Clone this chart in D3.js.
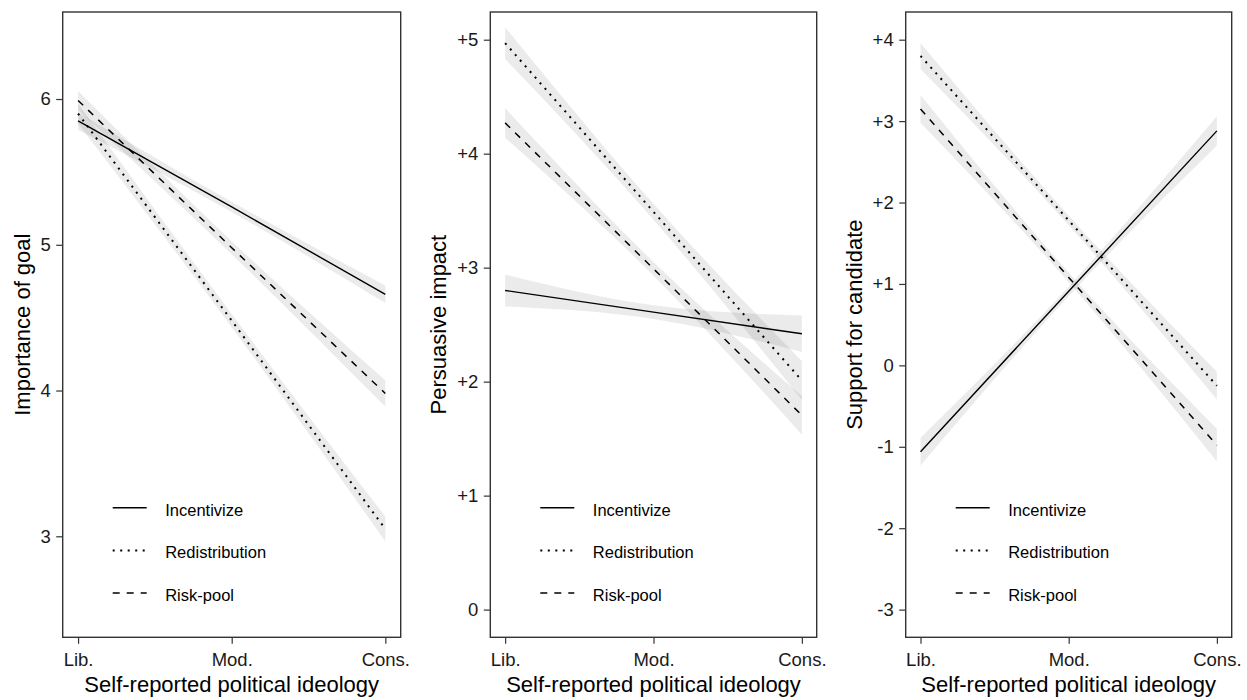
<!DOCTYPE html>
<html lang="en">
<head>
<meta charset="utf-8">
<style>
  html, body { margin: 0; padding: 0; background: #fff; }
  svg { display: block; font-family: "Liberation Sans", Arial, Helvetica, sans-serif; }
  .tick text { fill: #1a1a1a; }
</style>
</head>
<body>
<script src="https://cdnjs.cloudflare.com/ajax/libs/d3/7.8.5/d3.min.js"></script>
<script>
// categories on the x axis and the three message frames
var ideology = ['Lib.', 'Mod.', 'Cons.'];
var frames = ['Incentivize', 'Redistribution', 'Risk-pool'];
var dashes = ['none', '2,5.5', '7,7'];
var widths = [1.4, 2, 1.5];

// panel 1 - importance of goal (fit at Lib / Mod / Cons, half width of the ci band)
var goalFit  = [[5.85, 5.26, 4.66], [5.90, 4.48, 3.05], [5.99, 4.98, 3.98]];
var goalHalf = [[0.06, 0.035, 0.06], [0.07, 0.045, 0.085], [0.065, 0.045, 0.09]];
var goalTicks = [3, 4, 5, 6];
var goalLimits = [2.307, 6.597];

// panel 2 - persuasive impact
var impactFit  = [[2.80, 2.61, 2.42], [4.97, 3.49, 2.01], [4.27, 2.99, 1.705]];
var impactHalf = [[0.14, 0.06, 0.16], [0.14, 0.07, 0.17], [0.13, 0.06, 0.17]];
var impactTicks = [0, 1, 2, 3, 4, 5];
var impactLimits = [-0.243, 5.243];

// panel 3 - support for candidate
var supportFit  = [[-1.06, 0.91, 2.88], [3.80, 1.78, -0.25], [3.15, 1.08, -0.98]];
var supportHalf = [[0.17, 0.06, 0.18], [0.16, 0.06, 0.17], [0.17, 0.06, 0.2]];
var supportTicks = [-3, -2, -1, 0, 1, 2, 3, 4];
var supportLimits = [-3.34, 4.34];

var yTitles = ['Importance of goal', 'Persuasive impact', 'Support for candidate'];
var xTitle = 'Self-reported political ideology';

var W = 1247, H = 700;
// NB: "top" is taken by window.top, so use other names
var plotTop = 12, plotBottom = 637.3;

var svg = d3.select('body').append('svg')
    .attr('width', W)
    .attr('height', H);

// plain labels for panel 1, signed for the others
var plain = d => String(d);
var signed = d => d > 0 ? '+' + d : String(d);

var panels = [
  {left: 62.7, right: 400.7, fit: goalFit, half: goalHalf, ticks: goalTicks, lim: goalLimits, fmt: plain, titleX: 29.5},
  {left: 490.3, right: 816.7, fit: impactFit, half: impactHalf, ticks: impactTicks, lim: impactLimits, fmt: signed, titleX: 445.8},
  {left: 905.7, right: 1231.7, fit: supportFit, half: supportHalf, ticks: supportTicks, lim: supportLimits, fmt: signed, titleX: 861.5}
];

panels.forEach(function(p, pi) {
  var g = svg.append('g');

  var x = d3.scalePoint()
      .domain(ideology)
      .range([p.left, p.right])
      .padding(0.1);
  var y = d3.scaleLinear()
      .domain(p.lim)
      .range([plotBottom, plotTop]);

  // clip to the panel
  var clipId = 'clip' + pi;
  svg.append('clipPath').attr('id', clipId)
    .append('rect')
      .attr('x', p.left).attr('y', plotTop)
      .attr('width', p.right - p.left).attr('height', plotBottom - plotTop);

  var plot = g.append('g').attr('clip-path', 'url(#' + clipId + ')');

  // confidence bands
  var area = d3.area()
      .x(d => x(d.cat))
      .y0(d => y(d.lo))
      .y1(d => y(d.hi))
      .curve(d3.curveNatural);

  frames.forEach(function(f, i) {
    var rows = ideology.map((c, j) => ({cat: c, lo: p.fit[i][j] - p.half[i][j], hi: p.fit[i][j] + p.half[i][j]}));
    plot.append('path')
      .datum(rows)
      .attr('d', area)
      .attr('fill', '#000')
      .attr('fill-opacity', 0.08);
  });

  // fitted lines
  var line = d3.line()
      .x(d => x(d.cat))
      .y(d => y(d.v));

  frames.forEach(function(f, i) {
    var rows = ideology.map((c, j) => ({cat: c, v: p.fit[i][j]}));
    plot.append('path')
      .datum(rows)
      .attr('d', line)
      .attr('fill', 'none')
      .attr('stroke', '#000')
      .attr('stroke-width', widths[i])
      .attr('stroke-dasharray', dashes[i]);
  });

  // axes
  var yAxis = g.append('g')
      .attr('transform', 'translate(' + p.left + ',0)')
      .call(d3.axisLeft(y).tickValues(p.ticks).tickFormat(p.fmt).tickSize(6.5).tickPadding(5.5));
  var xAxis = g.append('g')
      .attr('transform', 'translate(0,' + plotBottom + ')')
      .call(d3.axisBottom(x).tickSize(6.5).tickPadding(9));

  [yAxis, xAxis].forEach(function(a) {
    a.select('.domain').remove();
    a.selectAll('.tick line').attr('stroke', '#333').attr('stroke-width', 1.2);
    a.selectAll('.tick text').attr('font-size', '18.5px');
    a.attr('font-family', null).attr('font-size', null);
  });

  // frame
  g.append('rect')
    .attr('x', p.left).attr('y', plotTop)
    .attr('width', p.right - p.left).attr('height', plotBottom - plotTop)
    .attr('fill', 'none')
    .attr('stroke', '#333')
    .attr('stroke-width', 1.4);

  // titles
  g.append('text')
    .attr('x', (p.left + p.right) / 2)
    .attr('y', 692)
    .attr('text-anchor', 'middle')
    .attr('font-size', '22px')
    .text(xTitle);

  g.append('text')
    .attr('transform', 'translate(' + p.titleX + ',' + (plotTop + plotBottom) / 2 + ') rotate(-90)')
    .attr('text-anchor', 'middle')
    .attr('font-size', '22px')
    .text(yTitles[pi]);

  // legend
  var leg = g.selectAll('g.leg')
      .data(frames)
      .enter().append('g')
      .attr('class', 'leg')
      .attr('transform', (d, i) => 'translate(' + p.left + ',' + (507.7 + i * 42.7) + ')');
  leg.append('line')
    .attr('x1', 50).attr('x2', 84)
    .attr('stroke', '#000')
    .attr('stroke-width', (d, i) => widths[i])
    .attr('stroke-dasharray', (d, i) => dashes[i]);
  leg.append('text')
    .attr('x', 102.5)
    .attr('y', 8)
    .attr('font-size', '16.5px')
    .text(d => d);
});
</script>
</body>
</html>
